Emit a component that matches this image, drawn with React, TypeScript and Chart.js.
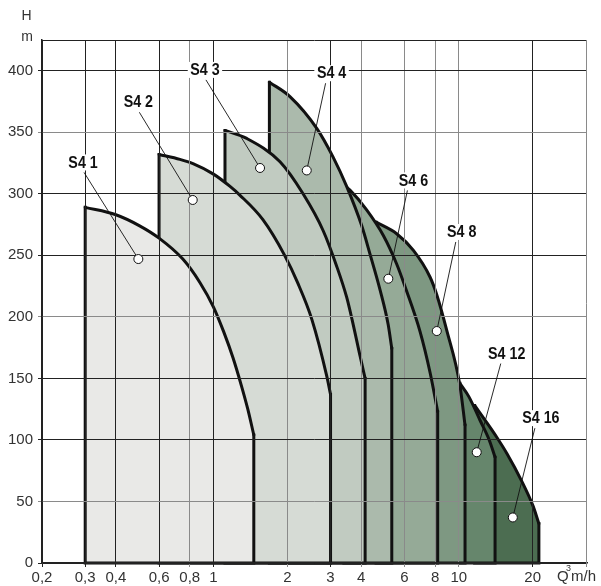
import React, { useEffect, useRef } from 'react';
import { Chart, registerables } from 'chart.js';

Chart.register(...registerables);

// ---- data ----
const seriesNames = ['S4 1', 'S4 2', 'S4 3', 'S4 4', 'S4 6', 'S4 8', 'S4 12', 'S4 16'];

// each series: Q (m3/h) and H (m) along the outline; first/last H = 0 are the vertical edges
const s41Q = [0.3, 0.3, 0.4, 0.5, 0.6, 0.75, 0.88, 1.0, 1.1, 1.2, 1.3, 1.38, 1.46, 1.46];
const s41H = [0, 289, 283, 274, 264, 247, 228, 208, 188, 167, 144, 125, 104, 0];

const s42Q = [0.6, 0.6, 0.73, 0.825, 1.0, 1.168, 1.28, 1.59, 1.95, 2.2, 2.517, 2.894, 3.0, 3.0];
const s42H = [0, 332, 328, 324.5, 316, 306, 299, 279, 250, 228, 198, 152, 137, 0];

const s43Q = [1.114, 1.114, 1.366, 1.867, 2.318, 2.8, 3.18, 3.49, 3.67, 3.96, 4.15, 4.15];
const s43H = [0, 351.5, 345, 326, 300, 270, 241, 216, 198, 168, 150, 0];

const s44Q = [1.69, 1.69, 2.05, 2.64, 3.07, 3.49, 4.02, 4.36, 4.78, 5.15, 5.33, 5.33];
const s44H = [0, 390.7, 379, 353, 330, 306, 274, 250, 221.6, 194, 174.3, 0];

const s46Q = [3.4, 3.4, 3.6, 4.21, 4.93, 5.58, 6.1, 6.95, 7.63, 8.13, 8.2, 8.2];
const s46H = [0, 307, 303, 287, 266, 243, 222, 188, 155, 127, 123, 0];

const s48Q = [4.6, 4.6, 5.58, 6.53, 7.63, 8.13, 8.93, 10.1, 10.6, 10.6];
const s48H = [0, 277, 267.6, 254, 232.4, 218, 189, 144.5, 112, 0];

const s412Q = [10.1, 10.1, 11.0, 12.2, 13.3, 14.05, 14.05];
const s412H = [0, 146, 135, 116, 100, 86, 0];

const s416Q = [11.6, 11.6, 12.8, 14.3, 15.7, 18.0, 20.1, 21.2, 21.2];
const s416H = [0, 128, 116, 102, 89, 67, 46, 32, 0];

const seriesQ = [s41Q, s42Q, s43Q, s44Q, s46Q, s48Q, s412Q, s416Q];
const seriesH = [s41H, s42H, s43H, s44H, s46H, s48H, s412H, s416H];

const markerQ = [0.494, 0.823, 1.548, 2.4, 5.16, 8.13, 11.83, 16.6];
const markerH = [247, 295, 321, 319, 231, 188.5, 90, 37];
const labelQ = [0.294, 0.494, 0.923, 3.03, 6.53, 10.28, 15.68, 21.6];
const labelH = [325.5, 374.4, 400.7, 398, 310.9, 269, 170.2, 117.7];

const xTicks = [0.2, 0.3, 0.4, 0.6, 0.8, 1, 2, 3, 4, 6, 8, 10, 20];
const yTicks = [0, 50, 100, 150, 200, 250, 300, 350, 400];
const xDark = [0.2, 0.3, 0.4, 0.6, 1, 3, 20];
const yDark = [0, 100, 150, 250, 300, 400];

const fillColors = ['#e9e9e7', '#d6dbd5', '#c1cbc1', '#abbaac', '#95aa97', '#7e9882', '#66866c', '#4c6d51'];

const FONT = '"Liberation Sans Narrow", "Liberation Sans", Arial, sans-serif';
const DARK = '#222';
const GRAY = '#8a8a8a';
const LINE = '#111';

const overlayPlugin = {
  id: 'overlay',
  afterDraw(chart: any) {
    const { ctx, chartArea, scales } = chart;
    const xs = scales.x;
    const ys = scales.y;
    ctx.save();
    // frame
    ctx.lineWidth = 1;
    ctx.strokeStyle = DARK;
    ctx.beginPath();
    ctx.moveTo(chartArea.left, chartArea.top + 0.5);
    ctx.lineTo(chartArea.right, chartArea.top + 0.5);
    ctx.stroke();
    ctx.strokeStyle = GRAY;
    ctx.beginPath();
    ctx.moveTo(chartArea.right - 0.5, chartArea.top);
    ctx.lineTo(chartArea.right - 0.5, chartArea.bottom + 4);
    ctx.stroke();

    // axis titles
    ctx.fillStyle = '#333';
    ctx.font = '14px ' + FONT;
    ctx.textAlign = 'center';
    ctx.textBaseline = 'middle';
    ctx.fillText('H', 26.5, 16);
    ctx.fillText('m', 27, 37);
    ctx.textAlign = 'left';
    ctx.font = '15px ' + FONT;
    ctx.fillText('Q', 557, 577);
    ctx.font = '9px ' + FONT;
    ctx.fillText('3', 566, 569);
    ctx.font = '15px ' + FONT;
    ctx.fillText('m/h', 571, 577);

    // leaders, markers, labels
    for (let i = 0; i < seriesNames.length; i++) {
      const mx = xs.getPixelForValue(markerQ[i]);
      const my = ys.getPixelForValue(markerH[i]);
      const lx = xs.getPixelForValue(labelQ[i]);
      const ly = ys.getPixelForValue(labelH[i]);
      const sx = lx + (mx < lx ? -6 : 1);
      const sy = ly + 10;
      ctx.strokeStyle = LINE;
      ctx.lineWidth = 0.9;
      ctx.beginPath();
      ctx.moveTo(sx, sy);
      ctx.lineTo(mx, my);
      ctx.stroke();
      ctx.beginPath();
      ctx.arc(mx, my, 4.5, 0, Math.PI * 2);
      ctx.fillStyle = '#fff';
      ctx.fill();
      ctx.lineWidth = 1;
      ctx.stroke();

      ctx.save();
      ctx.translate(lx, ly + 0.5);
      ctx.scale(0.84, 1);
      ctx.font = 'bold 17px ' + FONT;
      const w = ctx.measureText(seriesNames[i]).width;
      ctx.fillStyle = '#fff';
      ctx.fillRect(-w / 2 - 3, -8.5, w + 6, 16);
      ctx.fillStyle = LINE;
      ctx.textAlign = 'center';
      ctx.textBaseline = 'middle';
      ctx.fillText(seriesNames[i], 0, 0);
      ctx.restore();
    }
    ctx.restore();
  },
};

export default function App() {
  const ref = useRef<HTMLCanvasElement | null>(null);
  useEffect(() => {
    if (!ref.current) return;
    const datasets: any[] = [];
    seriesNames.forEach((name, i) => {
      const Q = seriesQ[i];
      const H = seriesH[i];
      const n = Q.length;
      // edges: right edge down, bottom, left edge up (straight)
      const edges = [
        { x: Q[n - 1], y: H[n - 2] },
        { x: Q[n - 1], y: 0 },
        { x: Q[0], y: 0 },
        { x: Q[0], y: H[1] },
      ];
      // curve: smooth part, filled down to 0
      const curve = Q.slice(1, n - 1).map((q, j) => ({ x: q, y: H[j + 1] }));
      datasets.push({
        label: name + ' edges',
        data: edges,
        showLine: true,
        fill: false,
        borderColor: LINE,
        borderWidth: 3,
        borderJoinStyle: 'miter',
        borderCapStyle: 'square',
        pointRadius: 0,
        tension: 0,
        clip: 4,
      });
      datasets.push({
        label: name,
        data: curve,
        showLine: true,
        fill: 'origin',
        backgroundColor: fillColors[i],
        borderColor: LINE,
        borderWidth: 3,
        borderCapStyle: 'round',
        pointRadius: 0,
        cubicInterpolationMode: 'monotone',
        clip: 4,
      });
    });
    const chart = new Chart(ref.current, {
      type: 'scatter',
      data: { datasets },
      options: {
        animation: false,
        responsive: false,
        events: [],
        layout: { padding: { top: 40, right: 14, left: 0, bottom: 0 } },
        plugins: { legend: { display: false }, tooltip: { enabled: false } },
        scales: {
          x: {
            type: 'logarithmic',
            min: 0.2,
            max: 33.3,
            bounds: 'data',
            afterBuildTicks: (s: any) => {
              s.ticks = xTicks.map((v) => ({ value: v }));
            },
            afterFit: (s: any) => {
              s.height = 23;
            },
            ticks: {
              autoSkip: false,
              maxRotation: 0,
              padding: 2,
              color: '#333',
              font: { family: FONT, size: 15 },
              callback: (v: any) => String(v).replace('.', ','),
            },
            grid: {
              z: 1,
              tickLength: 4,
              lineWidth: 1,
              color: (c: any) => (c.tick && xDark.includes(c.tick.value) ? DARK : GRAY),
            },
            border: { display: true, color: DARK, width: 1.5, z: 1 },
          },
          y: {
            type: 'linear',
            min: 0,
            max: 425,
            bounds: 'data',
            afterBuildTicks: (s: any) => {
              s.ticks = yTicks.map((v) => ({ value: v }));
            },
            afterFit: (s: any) => {
              s.width = 42;
            },
            ticks: {
              padding: 5,
              color: '#333',
              font: { family: FONT, size: 15 },
            },
            grid: {
              z: 1,
              tickLength: 4,
              lineWidth: 1,
              color: (c: any) => (c.tick && yDark.includes(c.tick.value) ? DARK : GRAY),
            },
            border: { display: true, color: DARK, width: 1.5, z: 1 },
          },
        },
      },
      plugins: [overlayPlugin],
    });
    return () => chart.destroy();
  }, []);
  return (
    <div style={{ position: 'absolute', left: 0, top: 0, width: 601, height: 586 }}>
      <canvas ref={ref} width={601} height={586} style={{ display: 'block' }} />
    </div>
  );
}
